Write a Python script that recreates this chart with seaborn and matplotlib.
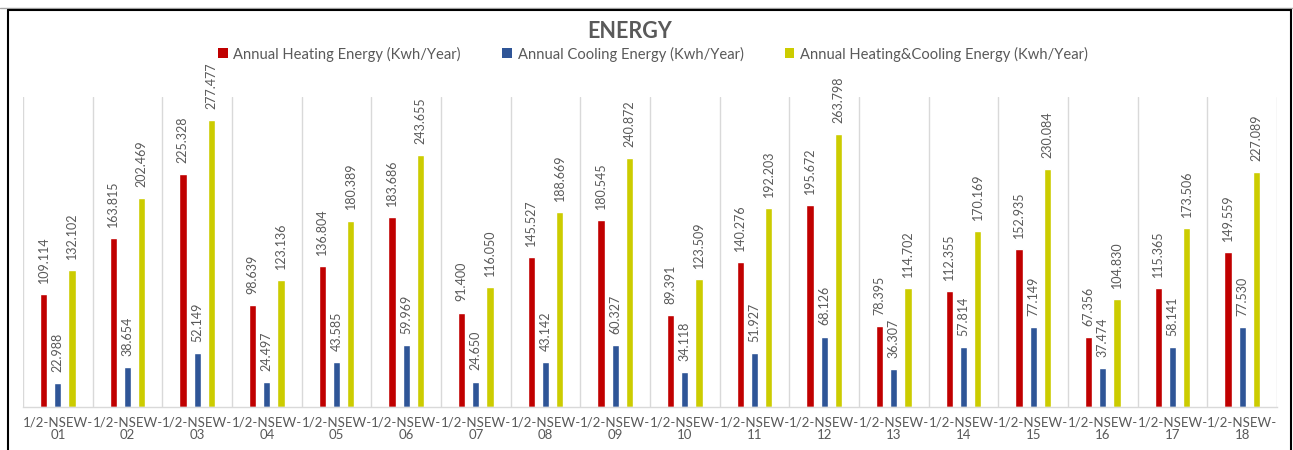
import matplotlib
matplotlib.use("Agg")
import matplotlib.pyplot as plt
from matplotlib.lines import Line2D
from matplotlib.patches import Patch
import seaborn as sns
import pandas as pd

categories = [f"1/2-NSEW-{i:02d}" for i in range(1, 19)]
heating = [109.114, 163.815, 225.328, 98.639, 136.804, 183.686, 91.400, 145.527, 180.545,
           89.391, 140.276, 195.672, 78.395, 112.355, 152.935, 67.356, 115.365, 149.559]
cooling = [22.988, 38.654, 52.149, 24.497, 43.585, 59.969, 24.650, 43.142, 60.327,
           34.118, 51.927, 68.126, 36.307, 57.814, 77.149, 37.474, 58.141, 77.530]
total = [132.102, 202.469, 277.477, 123.136, 180.389, 243.655, 116.050, 188.669, 240.872,
         123.509, 192.203, 263.798, 114.702, 170.169, 230.084, 104.830, 173.506, 227.089]
series = ["Annual Heating Energy (Kwh/Year)",
          "Annual Cooling Energy (Kwh/Year)",
          "Annual Heating&Cooling Energy (Kwh/Year)"]
colors = ["#C00000", "#2F5597", "#CCCC00"]

df = pd.DataFrame({
    "case": categories * 3,
    "series": [series[0]] * 18 + [series[1]] * 18 + [series[2]] * 18,
    "value": heating + cooling + total,
})

sns.set_theme(style="white")
plt.rcParams["font.family"] = ["Lato", "DejaVu Sans"]
text_gray = "#595959"
grid_gray = "#D9D9D9"

fig = plt.figure(figsize=(12.93, 4.5), dpi=100)
ax = fig.add_axes([23 / 1293, 1 - 407 / 450, (1277 - 23) / 1293, (407 - 97) / 450])

sns.barplot(data=df, x="case", y="value", hue="series", hue_order=series,
            palette=colors, order=categories, width=0.615, gap=0.49,
            saturation=1, legend=False, ax=ax, errorbar=None)

for cont in ax.containers:
    ax.bar_label(cont, fmt="%.3f", rotation=90, padding=8,
                 fontsize=9, color=text_gray)

ax.set_xlim(-0.5, 17.5)
ax.set_ylim(0, 300)
ax.set_xlabel("")
ax.set_ylabel("")
ax.set_yticks([])

# category separators
ax.set_xticks([i - 0.5 for i in range(19)], minor=True)
ax.grid(True, which="minor", axis="x", color=grid_gray, linewidth=1)
ax.grid(False, which="major")

wrapped = [c[:-2] + "\n" + c[-2:] for c in categories]
ax.set_xticks(range(18))
ax.set_xticklabels(wrapped, fontsize=9.5, color=text_gray, linespacing=1.05)
ax.tick_params(axis="x", which="both", length=0, pad=7)

for s in ["top", "left", "right"]:
    ax.spines[s].set_visible(False)
ax.spines["bottom"].set_color(grid_gray)
ax.spines["bottom"].set_linewidth(1)

fig.text(630 / 1293, 1 - 32 / 450, "ENERGY", ha="center", va="center",
         fontsize=15.5, fontweight="bold", color=text_gray)

handles = [Patch(facecolor=c, edgecolor="none") for c in colors]
fig.legend(handles, series, loc="center", bbox_to_anchor=(653 / 1293, 1 - 54 / 450),
           ncol=3, frameon=False, fontsize=10.6, labelcolor=text_gray,
           handlelength=0.65, handleheight=0.65, handletextpad=0.4,
           columnspacing=2.8, borderpad=0, borderaxespad=0)

# outer frame
fig.add_artist(Line2D([0, 1], [1 - 8 / 450] * 2, color="#A6A6A6", lw=1,
                      transform=fig.transFigure))
fig.add_artist(Line2D([7.5 / 1293, 1291 / 1293], [1 - 10 / 450] * 2, color="black",
                      lw=1.5, transform=fig.transFigure))
fig.add_artist(Line2D([7.5 / 1293] * 2, [0, 1 - 10 / 450], color="black",
                      lw=1.5, transform=fig.transFigure))
fig.add_artist(Line2D([1291 / 1293] * 2, [0, 1 - 10 / 450], color="black",
                      lw=1.5, transform=fig.transFigure))

fig.savefig("out.png", dpi=100)
